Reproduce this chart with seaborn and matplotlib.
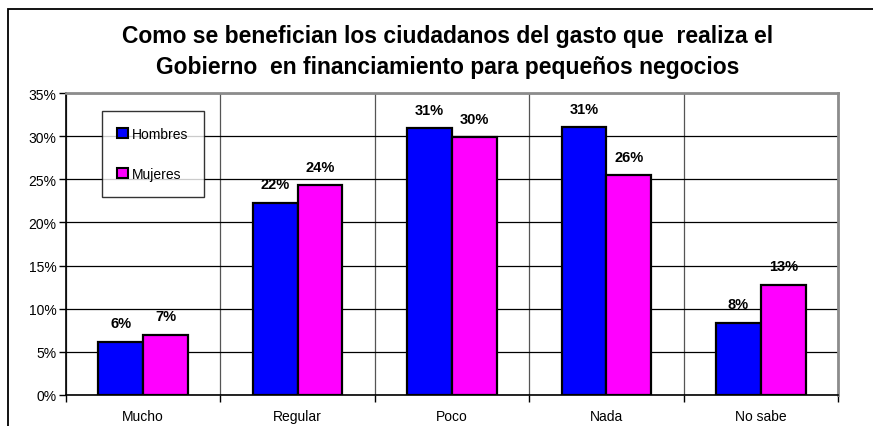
import matplotlib
matplotlib.use("Agg")
import matplotlib.pyplot as plt
import seaborn as sns
import pandas as pd
from matplotlib.patches import Rectangle
from matplotlib.ticker import MultipleLocator, FixedLocator

categories = ["Mucho", "Regular", "Poco", "Nada", "No sabe"]
hombres = [6.2, 22.3, 30.9, 31.1, 8.4]
mujeres = [7.0, 24.3, 29.9, 25.5, 12.8]
labels_h = ["6%", "22%", "31%", "31%", "8%"]
labels_m = ["7%", "24%", "30%", "26%", "13%"]
series = ["Hombres", "Mujeres"]
title = "Como se benefician los ciudadanos del gasto que  realiza el\nGobierno  en financiamiento para pequeños negocios"

df = pd.DataFrame({
    "cat": categories * 2,
    "val": hombres + mujeres,
    "serie": [series[0]] * 5 + [series[1]] * 5,
})

sns.set_theme(style="white")
plt.rcParams["font.family"] = ["Liberation Sans", "DejaVu Sans"]
plt.rcParams["text.color"] = "black"
plt.rcParams["xtick.color"] = "black"
plt.rcParams["ytick.color"] = "black"

fig = plt.figure(figsize=(8.73, 4.27), dpi=100)
ax = fig.add_axes([66 / 873, 31 / 427, 772 / 873, 302 / 427])

sns.barplot(data=df, x="cat", y="val", hue="serie", order=categories,
            hue_order=series, palette=["#0000FF", "#FF00FF"], width=0.58,
            edgecolor="black", linewidth=1.6, saturation=1, ax=ax, zorder=3,
            legend=True)

ax.set_xlim(-0.5, 4.5)
ax.set_ylim(0, 35)
ax.yaxis.set_major_locator(MultipleLocator(5))
ax.set_yticklabels([f"{int(v)}%" for v in ax.get_yticks()])
ax.xaxis.set_minor_locator(FixedLocator([-0.5, 0.5, 1.5, 2.5, 3.5, 4.5]))
ax.grid(axis="y", which="major", color="black", linewidth=0.9, zorder=0)
ax.grid(axis="x", which="minor", color="#555555", linewidth=0.9, zorder=0)
ax.set_axisbelow(True)
ax.set_xlabel("")
ax.set_ylabel("")

ax.tick_params(axis="x", which="major", length=0, labelsize=10, pad=10, labelcolor="black")
ax.tick_params(axis="x", which="minor", length=5, width=1, direction="out", color="black", bottom=True)
ax.tick_params(axis="y", length=5, width=1, direction="out", color="black", labelsize=10, pad=2, left=True, labelcolor="black")

for s in ["left", "bottom"]:
    ax.spines[s].set_color("black")
    ax.spines[s].set_linewidth(1.2)
for s in ["top", "right"]:
    ax.spines[s].set_color("#8c8c8c")
    ax.spines[s].set_linewidth(2)

# value labels
for i, cont in enumerate(ax.containers):
    labs = labels_h if i == 0 else labels_m
    for bar, lab in zip(cont, labs):
        ax.annotate(lab, (bar.get_x() + bar.get_width() / 2, bar.get_height()),
                    xytext=(0, 8), textcoords="offset points", ha="center",
                    va="bottom", fontsize=10.5, fontweight="bold", color="black")

leg = ax.legend(loc="upper left", bbox_to_anchor=(0.046, 0.941), frameon=True,
                fancybox=False, fontsize=10, handlelength=0.75, handleheight=0.75,
                handletextpad=0.3, labelspacing=1.9, borderpad=1.15,
                borderaxespad=0)
leg.get_frame().set_edgecolor("black")
leg.get_frame().set_linewidth(1)
for t in leg.get_texts():
    t.set_color("black")
for h in leg.legend_handles:
    h.set_edgecolor("black")
    h.set_linewidth(1.5)

fig.text(447.5 / 873, 1 - 52 / 427, title, ha="center", va="center",
         fontsize=16.5, fontweight="bold", linespacing=1.4, color="black")

# outer frame
fig.patches.append(Rectangle((8 / 873, -0.1), 1.0, 1 - 10 / 427 + 0.1,
                             transform=fig.transFigure, fill=False,
                             edgecolor="black", linewidth=1.3))

fig.savefig("out.png", dpi=100)
